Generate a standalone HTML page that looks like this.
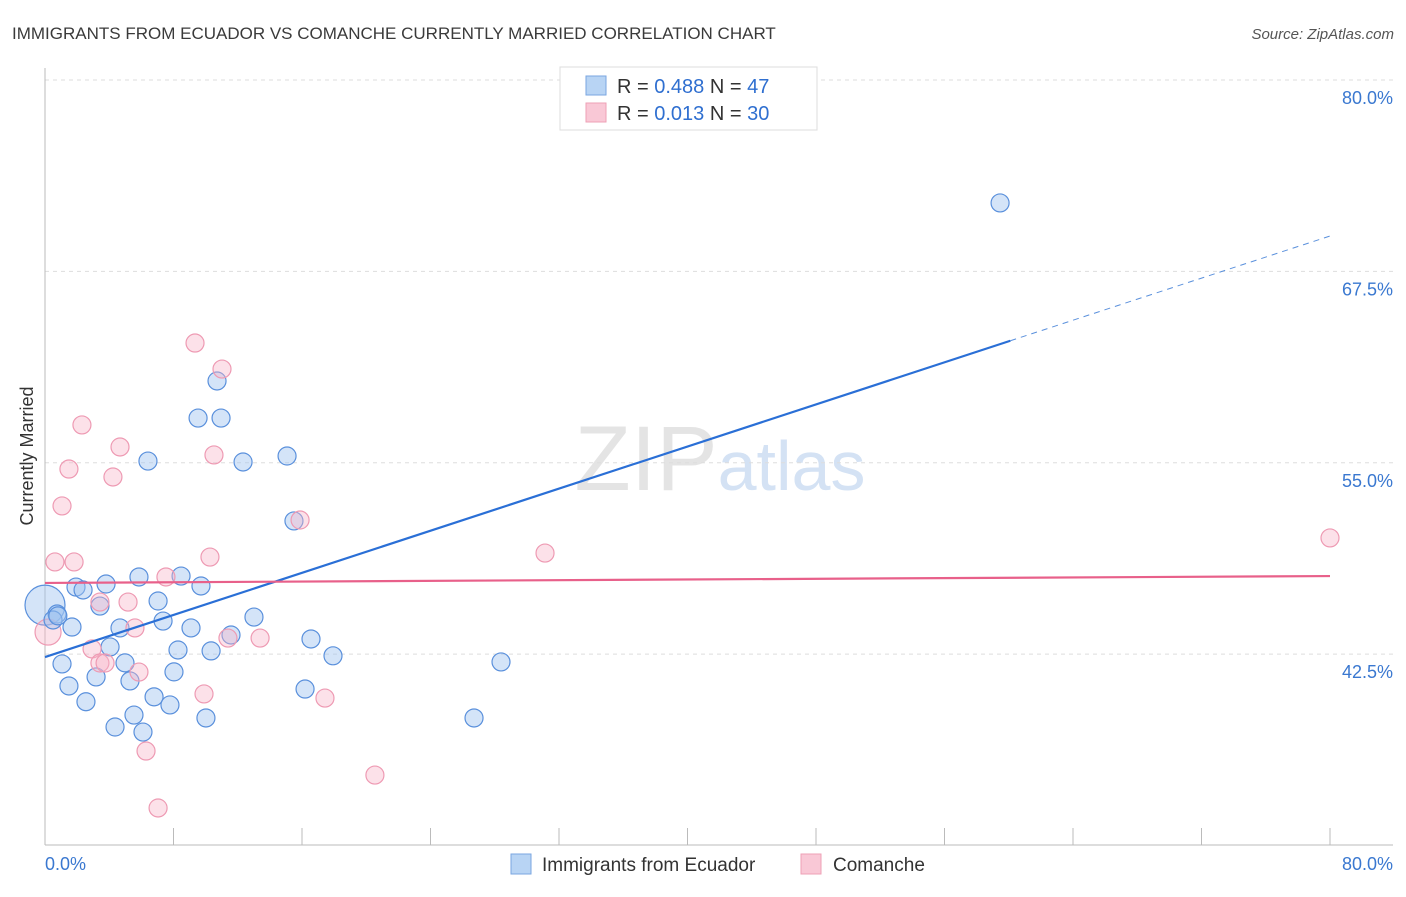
<!DOCTYPE html>
<html><head><meta charset="utf-8"><style>
body{margin:0;background:#fff;font-family:"Liberation Sans",sans-serif;}
svg text{font-family:"Liberation Sans",sans-serif;}
</style></head><body>
<svg id="chart" width="1406" height="892" xmlns="http://www.w3.org/2000/svg">
<text x="12" y="39" font-size="17" fill="#3a3a3a">IMMIGRANTS FROM ECUADOR VS COMANCHE CURRENTLY MARRIED CORRELATION CHART</text>
<text x="1394" y="39" font-size="15" fill="#555" text-anchor="end" font-style="italic">Source: ZipAtlas.com</text>
<text x="720" y="490" font-size="92" fill="#e4e4e4" text-anchor="middle" font-family="Liberation Serif">ZIP<tspan fill="#d4e2f4" font-family="Liberation Sans" font-size="70">atlas</tspan></text>
<text transform="translate(33,456) rotate(-90)" font-size="18" fill="#333" text-anchor="middle">Currently Married</text>
<g id="grid"></g>
<g id="pts"></g>
<g id="lines"></g>
<g>
<rect x="560" y="67" width="257" height="63" fill="#fff" stroke="#ddd"/>
<rect x="586" y="76" width="20" height="19" fill="#b8d4f4" stroke="#7aa6e0"/>
<text x="617" y="93" font-size="20" fill="#333">R = <tspan fill="#2f6fd0">0.488</tspan>   N = <tspan fill="#2f6fd0">47</tspan></text>
<rect x="586" y="103" width="20" height="19" fill="#f9c8d6" stroke="#eea0b6"/>
<text x="617" y="120" font-size="20" fill="#333">R =  <tspan fill="#2f6fd0">0.013</tspan>   N = <tspan fill="#2f6fd0">30</tspan></text>
</g>
<g>
<rect x="511" y="854" width="20" height="20" fill="#b8d4f4" stroke="#7aa6e0"/>
<text x="542" y="871" font-size="19" fill="#333">Immigrants from Ecuador</text>
<rect x="801" y="854" width="20" height="20" fill="#f9c8d6" stroke="#eea0b6"/>
<text x="833" y="871" font-size="19" fill="#333">Comanche</text>
</g>
</svg>
<script>
const ecuadorX=[59.46,10.71,9.53,10.96,6.41,12.33,15.07,15.5,5.85,8.47,3.8,1.93,2.37,9.71,3.42,7.04,0.75,0.5,7.35,13.01,1.68,4.67,9.09,11.58,16.56,4.05,8.28,10.34,17.93,1.06,4.98,28.39,8.03,3.18,5.29,1.49,16.19,6.79,2.55,7.78,5.54,10.02,26.71,4.36,6.1,0.8];
const ecuadorY=[71.97,60.34,57.92,57.92,55.11,55.05,55.44,51.2,47.54,47.6,47.08,46.88,46.69,46.95,45.64,45.97,45.12,44.73,44.66,44.92,44.27,44.21,44.21,43.75,43.49,42.97,42.77,42.71,42.39,41.86,41.93,41.99,41.34,41.01,40.75,40.42,40.22,39.71,39.39,39.18,38.52,38.33,38.33,37.74,37.41,45.0];
const comancheX=[9.34,11.02,2.3,4.67,1.49,10.52,4.23,1.06,15.88,0.62,1.81,10.27,31.13,80,7.53,3.42,5.17,5.6,2.93,3.42,3.74,5.85,11.39,13.39,9.9,17.43,6.29,7.04,20.54];
const comancheY=[62.82,61.12,57.47,56.03,54.59,55.51,54.07,52.18,51.26,48.52,48.52,48.84,49.1,50.09,47.54,45.9,45.9,44.21,42.84,41.92,41.92,41.33,43.55,43.55,39.9,39.63,36.17,32.45,34.6];
const bigX=[0,0.19],bigY=[45.7,43.94];
const yTicks=[80,67.5,55,42.5];
const trendBlue=[42.31,69.81], trendPink=[47.15,47.6];
const NS="http://www.w3.org/2000/svg";
const X=v=>45+v/80*1285, Y=v=>80+(80-v)*15.31;
function mk(t,a,p){const e=document.createElementNS(NS,t);for(const k in a)e.setAttribute(k,a[k]);p.appendChild(e);return e;}
const g=document.getElementById('grid');
yTicks.forEach(t=>{
 const l=mk('line',{x1:45,x2:1393,y1:Y(t),y2:Y(t),stroke:'#ddd','stroke-dasharray':'4,4'},g);
 
 
 const tx=mk('text',{x:1393,y:Y(t)+24,'font-size':18,fill:'#3a78d0','text-anchor':'end'},g);
 tx.textContent=t.toFixed(1)+'%';
 
 
});
mk('line',{x1:45,x2:45,y1:68,y2:845,stroke:'#bbb'},g);
mk('line',{x1:45,x2:1393,y1:845,y2:845,stroke:'#bbb'},g);
for(let i=0;i<=10;i++){const t=mk('line',{x1:X(i*8),x2:X(i*8),y1:828,y2:845,stroke:'#bbb'},g);
 
 }
const xl=mk('text',{x:45,y:870,'font-size':18,fill:'#3a78d0'},g);xl.textContent='0.0%';


const xr=mk('text',{x:1393,y:870,'font-size':18,fill:'#3a78d0','text-anchor':'end'},g);xr.textContent='80.0%';


const p=document.getElementById('pts');
function dot(x,y,r,blue){const c=mk('circle',{cx:X(x),cy:Y(y),r:r,fill:blue?'rgba(160,196,240,0.45)':'rgba(248,180,200,0.4)',stroke:blue?'#5a90dc':'#ee9ab3','stroke-width':1.2},p);
 
 }
dot(bigX[0],bigY[0],20,true);dot(bigX[1],bigY[1],13,false);
ecuadorX.forEach((x,i)=>dot(x,ecuadorY[i],9,true));
comancheX.forEach((x,i)=>dot(x,comancheY[i],9,false));
const L=document.getElementById('lines');
const by=x=>trendBlue[0]+(trendBlue[1]-trendBlue[0])*x/80;
const b1=mk('line',{x1:X(0),y1:Y(by(0)),x2:X(60.1),y2:Y(by(60.1)),stroke:'#2a6fd6','stroke-width':2.2},L);


const b2=mk('line',{x1:X(60.1),y1:Y(by(60.1)),x2:X(80),y2:Y(by(80)),stroke:'#5a90dc','stroke-width':1,'stroke-dasharray':'6,5'},L);


const pl=mk('line',{x1:X(0),y1:Y(trendPink[0]),x2:X(80),y2:Y(trendPink[1]),stroke:'#e8608a','stroke-width':2.2},L);


</script>
</body></html>
